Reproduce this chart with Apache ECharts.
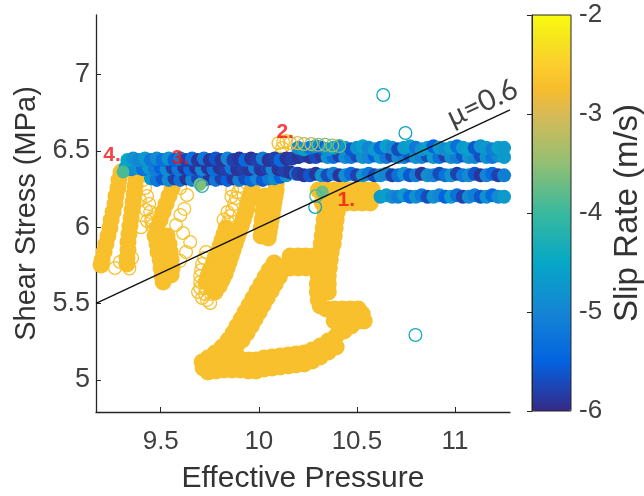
<!DOCTYPE html>
<html>
<head>
<meta charset="utf-8">
<script src="https://cdn.jsdelivr.net/npm/echarts@6/dist/echarts.min.js"></script>
<style>
  html, body { margin: 0; padding: 0; background: #fff; }
  #chart { width: 644px; height: 496px; }
</style>
</head>
<body>
<div id="chart"></div>
<script>
// ticks
const xTicks = [9.5, 10, 10.5, 11];
const yTicks = [5, 5.5, 6, 6.5, 7];
const rateTicks = [-6, -5, -4, -3, -2];

// slip rate of the slow (yellow) loops, log10 m/s
const yellowRate = -2.7;

// yellow loops, [effective pressure, shear stress]
const loopLeft = [
  [9.298,6.362],[9.287,6.309],[9.282,6.257],[9.272,6.205],[9.267,6.152],[9.257,6.100],[9.247,6.047],
  [9.241,5.995],[9.231,5.943],[9.221,5.890],[9.211,5.838],[9.201,5.786],[9.196,5.753],
  [9.374,6.323],[9.369,6.270],[9.364,6.218],[9.359,6.165],[9.354,6.113],[9.349,6.061],[9.343,6.008],
  [9.338,5.956],[9.333,5.903],[9.333,5.851],[9.328,5.799],[9.328,5.759]
];
const loopV = [
  [9.573,6.309],[9.558,6.257],[9.542,6.205],[9.527,6.152],[9.512,6.100],[9.497,6.047],[9.481,5.995],
  [9.471,5.943],[9.481,5.890],[9.486,5.838],[9.497,5.786],[9.502,5.733],[9.507,5.681],[9.512,5.641],
  [9.532,5.943],[9.542,5.890],[9.548,5.838],[9.553,5.786],[9.558,5.733],[9.553,5.687]
];
const loopMid = [
  [9.833,5.995],[9.823,5.956],[9.813,5.917],[9.803,5.877],[9.792,5.838],[9.777,5.799],[9.767,5.759],
  [9.752,5.720],[9.741,5.681],[9.731,5.641],
  [9.966,6.244],[9.956,6.205],[9.946,6.165],[9.940,6.126],[9.930,6.087],[9.920,6.047],[9.910,6.008],
  [9.900,5.969],[9.889,5.930],[9.879,5.890],[9.869,5.851],[9.859,5.812],[9.849,5.772],[9.838,5.733],
  [9.828,5.694],[9.813,5.655],[9.798,5.615],[9.777,5.576],
  [9.828,5.838],[9.818,5.799],[9.808,5.759],[9.792,5.720],[9.782,5.681],[9.772,5.641],[9.762,5.602]
];
const loopColumn = [
  [10.109,6.440],[10.109,6.401],[10.099,6.362],[10.093,6.323],[10.088,6.283],[10.088,6.244],[10.083,6.205],
  [10.078,6.165],[10.073,6.126],[10.068,6.087],[10.063,6.047],[10.058,6.008],[10.053,5.969],[10.048,5.930],
  [10.032,6.205],[10.027,6.152],[10.022,6.100],[10.017,6.047],[10.012,5.995],[10.012,5.943]
];
const loopZ = [
  // block under "1."
  [10.303,6.244],[10.343,6.244],[10.384,6.244],[10.425,6.244],[10.466,6.244],[10.507,6.244],[10.548,6.244],[10.578,6.244],
  [10.323,6.159],[10.364,6.159],[10.405,6.159],[10.446,6.159],[10.486,6.159],[10.527,6.159],[10.568,6.159],
  // falling strand
  [10.338,6.100],[10.333,6.047],[10.328,5.995],[10.323,5.943],[10.318,5.890],[10.313,5.838],[10.308,5.786],
  [10.303,5.733],[10.303,5.681],[10.298,5.628],[10.298,5.576],[10.303,5.524],[10.313,5.484],
  [10.400,6.100],[10.394,6.047],[10.389,5.995],[10.384,5.943],[10.379,5.890],[10.369,5.838],[10.364,5.786],
  [10.359,5.733],[10.354,5.681],[10.354,5.628],[10.354,5.576],
  // short arm
  [10.282,5.812],[10.241,5.812],[10.201,5.812],[10.160,5.812],
  [10.282,5.733],[10.241,5.733],[10.201,5.733],[10.160,5.733],
  // diagonal
  [10.078,5.766],[10.053,5.720],[10.032,5.674],[10.012,5.628],[9.991,5.583],[9.971,5.537],[9.951,5.491],
  [9.930,5.445],[9.910,5.399],[9.889,5.353],[9.869,5.308],[9.844,5.262],[9.813,5.216],[9.777,5.177],
  [9.741,5.144],[9.711,5.118],[9.716,5.078],
  [10.150,5.766],[10.124,5.720],[10.104,5.674],[10.083,5.628],[10.063,5.583],[10.042,5.537],[10.022,5.491],
  [10.002,5.445],[9.981,5.399],[9.961,5.353],[9.940,5.308],[9.915,5.262],[9.884,5.216],
  // bottom run
  [9.741,5.118],[9.782,5.124],[9.823,5.131],[9.864,5.137],[9.905,5.137],[9.946,5.131],[9.986,5.131],
  [10.027,5.144],[10.068,5.150],[10.109,5.157],[10.150,5.163],[10.190,5.170],[10.231,5.177],[10.272,5.196],
  [10.313,5.222],[10.354,5.255],[10.394,5.288],[10.435,5.321],[10.471,5.353],[10.502,5.393],[10.527,5.432],
  [9.741,5.052],[9.782,5.059],[9.823,5.065],[9.864,5.065],[9.905,5.065],[9.946,5.059],[9.986,5.059],
  [10.027,5.072],[10.068,5.078],[10.109,5.085],[10.150,5.091],[10.190,5.098],[10.231,5.104],[10.272,5.124],
  [10.313,5.150],[10.354,5.183],[10.394,5.216],
  // hook
  [10.343,5.465],[10.384,5.465],[10.425,5.465],[10.466,5.465],[10.507,5.465],
  [10.384,5.386],[10.425,5.386],[10.466,5.386],[10.507,5.386],[10.537,5.386]
];
// open yellow circles on the loop edges
const yellowRings = [
  [9.292,5.772],[9.267,5.733],[9.354,5.799],[9.340,5.730],
  [9.410,6.309],[9.420,6.257],[9.430,6.205],[9.441,6.152],[9.446,6.100],[9.451,6.047],[9.456,6.008],
  [9.394,6.178],[9.425,6.113],[9.456,6.060],[9.486,5.995],[9.374,6.224],[9.400,6.000],[9.430,6.041],
  [9.578,6.015],[9.614,5.962],[9.650,5.903],[9.629,5.838],[9.599,5.780],
  [9.599,6.257],[9.634,6.211],[9.600,6.080],[9.620,6.120],
  [9.905,6.270],[9.894,6.231],[9.884,6.192],[9.874,6.152],[9.864,6.113],[9.854,6.074],[9.843,6.034],
  [9.864,6.244],[9.840,6.100],[9.820,6.050],[9.860,6.200],
  [9.731,5.838],[9.721,5.799],[9.711,5.759],[9.706,5.720],[9.701,5.681],[9.701,5.641],[9.701,5.602],
  [9.726,5.602],[9.726,5.563],[9.736,5.524],[9.757,5.563],[9.711,5.537],[9.752,5.504],[9.690,5.576],
  [10.124,6.558],[10.119,6.519],[10.114,6.480],[10.140,6.565],[10.100,6.550]
];

// fast slip bands, [pressure, stress, slip rate]
const bandLeftTop = [
  [9.33,6.44,-4.5],[9.36,6.45,-4.8],[9.39,6.44,-5.0],[9.42,6.45,-4.7],[9.45,6.44,-5.2],[9.48,6.45,-4.9],
  [9.51,6.44,-5.3],[9.54,6.45,-4.8],[9.57,6.44,-5.5],[9.60,6.45,-5.1],[9.63,6.44,-5.8],[9.66,6.45,-5.3],
  [9.69,6.44,-5.9],[9.72,6.45,-5.2],[9.75,6.44,-5.9],[9.78,6.45,-5.6],[9.81,6.44,-5.9],[9.84,6.45,-5.0],
  [9.87,6.44,-5.8],[9.90,6.45,-5.9],[9.93,6.44,-5.4],[9.96,6.45,-5.9],[9.99,6.44,-5.8],[10.02,6.45,-5.1],
  [10.05,6.44,-5.9],[10.08,6.45,-5.8],[10.11,6.44,-5.4],[10.14,6.45,-5.9],[10.17,6.45,-5.8],[10.20,6.46,-5.3]
];
const bandLeftMid = [
  [9.32,6.39,-4.6],[9.35,6.38,-5.0],[9.38,6.39,-4.8],[9.41,6.38,-5.3],[9.44,6.39,-4.7],[9.47,6.38,-5.1],
  [9.50,6.39,-5.5],[9.53,6.38,-4.9],[9.56,6.39,-5.8],[9.59,6.38,-5.2],[9.62,6.39,-5.9],[9.65,6.38,-5.4],
  [9.68,6.39,-5.9],[9.71,6.38,-5.0],[9.74,6.39,-5.9],[9.77,6.38,-5.3],[9.80,6.39,-5.9],[9.83,6.38,-5.8],
  [9.86,6.39,-5.2],[9.89,6.38,-5.9],[9.92,6.39,-5.8],[9.95,6.38,-5.9],[9.98,6.39,-5.1],[10.01,6.38,-5.9],
  [10.04,6.39,-5.8],[10.07,6.38,-5.0],[10.10,6.38,-5.9],[10.13,6.37,-5.8],[10.16,6.36,-5.9],[10.19,6.35,-5.1]
];
const bandLeftLow = [
  [9.45,6.32,-4.7],[9.48,6.31,-5.2],[9.51,6.32,-5.6],[9.54,6.31,-4.9],[9.57,6.32,-5.8],[9.60,6.31,-5.3],
  [9.63,6.32,-5.9],[9.66,6.31,-5.0],[9.69,6.32,-5.7],[9.72,6.31,-5.4],[9.75,6.32,-5.9],[9.78,6.31,-5.2],
  [9.81,6.32,-5.8],[9.84,6.31,-5.5],[9.87,6.32,-5.9],[9.90,6.31,-5.1],[9.93,6.32,-5.7],[9.96,6.31,-5.4],
  [9.99,6.32,-5.0],[10.02,6.31,-5.6],[10.05,6.32,-5.2],[10.08,6.32,-4.9],[10.11,6.33,-5.5],[10.14,6.34,-4.8]
];
const bandRightTop = [
  [10.20,6.52,-4.9],[10.23,6.51,-4.6],[10.26,6.52,-5.2],[10.29,6.53,-4.7],[10.32,6.52,-5.5],[10.35,6.51,-4.8],
  [10.38,6.52,-4.6],[10.41,6.53,-5.1],[10.44,6.52,-4.7],[10.47,6.51,-5.6],[10.50,6.52,-4.8],[10.53,6.53,-4.6],
  [10.56,6.52,-5.0],[10.59,6.51,-4.7],[10.62,6.52,-5.4],[10.65,6.53,-4.6],[10.68,6.52,-4.9],[10.71,6.51,-5.7],
  [10.74,6.52,-4.7],[10.77,6.53,-4.6],[10.80,6.52,-5.2],[10.83,6.51,-4.8],[10.86,6.52,-4.6],[10.89,6.53,-5.5],
  [10.92,6.52,-4.7],[10.95,6.51,-4.9],[10.98,6.52,-4.6],[11.01,6.53,-5.3],[11.04,6.52,-4.7],[11.07,6.51,-4.6],
  [11.10,6.52,-5.6],[11.13,6.53,-4.8],[11.16,6.52,-4.7],[11.19,6.51,-5.1],[11.22,6.52,-4.6],[11.25,6.52,-4.7]
];
const bandRightUpper = [
  [10.20,6.46,-5.9],[10.23,6.47,-5.8],[10.26,6.46,-5.9],[10.29,6.46,-5.7],[10.32,6.47,-5.9],[10.35,6.46,-4.8],
  [10.38,6.46,-5.3],[10.41,6.47,-5.8],[10.44,6.46,-4.9],[10.47,6.46,-5.2],[10.50,6.47,-5.7],[10.53,6.46,-4.8],
  [10.56,6.46,-5.0],[10.59,6.47,-5.5],[10.62,6.46,-4.7],[10.65,6.46,-5.2],[10.68,6.47,-5.8],[10.71,6.46,-4.9],
  [10.74,6.46,-5.1],[10.77,6.47,-5.6],[10.80,6.46,-4.8],[10.83,6.46,-5.0],[10.86,6.47,-5.7],[10.89,6.46,-4.7],
  [10.92,6.46,-5.3],[10.95,6.47,-5.8],[10.98,6.46,-4.9],[11.01,6.46,-5.1],[11.04,6.47,-5.6],[11.07,6.46,-4.8],
  [11.10,6.46,-5.0],[11.13,6.47,-5.7],[11.16,6.46,-4.8],[11.19,6.46,-5.2],[11.22,6.47,-4.9],[11.25,6.46,-4.7]
];
const bandRightMid = [
  [10.20,6.35,-5.8],[10.23,6.34,-5.9],[10.26,6.34,-5.6],[10.29,6.35,-5.9],[10.32,6.34,-4.8],[10.35,6.34,-5.7],
  [10.38,6.35,-5.1],[10.41,6.34,-5.9],[10.44,6.34,-4.9],[10.47,6.35,-5.4],[10.50,6.34,-5.8],[10.53,6.34,-4.8],
  [10.56,6.35,-5.2],[10.59,6.34,-5.7],[10.62,6.34,-4.9],[10.65,6.35,-5.0],[10.68,6.34,-5.8],[10.71,6.34,-5.3],
  [10.74,6.35,-4.8],[10.77,6.34,-5.6],[10.80,6.34,-5.1],[10.83,6.35,-5.9],[10.86,6.34,-4.9],[10.89,6.34,-5.0],
  [10.92,6.35,-5.7],[10.95,6.34,-5.3],[10.98,6.34,-4.8],[11.01,6.35,-5.8],[11.04,6.34,-5.2],[11.07,6.34,-4.9],
  [11.10,6.35,-5.6],[11.13,6.34,-5.9],[11.16,6.34,-5.0],[11.19,6.35,-5.4],[11.22,6.34,-5.8],[11.25,6.34,-5.1]
];
const bandRightLow = [
  [10.62,6.20,-4.7],[10.65,6.21,-4.6],[10.68,6.20,-4.9],[10.71,6.20,-5.1],[10.74,6.21,-4.7],[10.77,6.20,-5.4],
  [10.80,6.20,-4.8],[10.83,6.21,-5.2],[10.86,6.20,-5.7],[10.89,6.20,-4.8],[10.92,6.21,-5.0],[10.95,6.20,-5.5],
  [10.98,6.20,-4.7],[11.01,6.21,-5.3],[11.04,6.20,-5.8],[11.07,6.20,-4.9],[11.10,6.21,-5.1],[11.13,6.20,-5.6],
  [11.16,6.20,-4.8],[11.19,6.21,-5.4],[11.22,6.20,-4.9],[11.25,6.20,-4.7]
];

// transitional points
const greenDots = [[9.308,6.362,-3.9],[9.700,6.280,-3.6],[10.323,6.231,-3.7]];
const openMarks = [
  [10.634,6.866,-4.5],[10.747,6.617,-4.6],[10.798,5.294,-4.4],[10.287,6.133,-4.6],
  [10.292,6.205,-3.9],[9.710,6.270,-4.2],
  [10.160,6.552,-2.8],[10.196,6.552,-3.0],[10.231,6.545,-3.2],[10.267,6.545,-3.3],
  [10.303,6.540,-3.5],[10.338,6.540,-3.6],[10.374,6.535,-3.4],[10.410,6.532,-3.7]
];

// friction line tau = 0.6 * P
const muLine = [[9.17,5.502],[11.28,6.768]];
const muText = ['\u03bc=0.6', 11.139, 6.814];
const stageLabels = [['4.',9.252,6.473],['3.',9.599,6.450],['2.',10.134,6.620],['1.',10.446,6.178]];

const parula = ['#352a87','#1c46b4','#0363e1','#0c74da','#1485d4','#0d96cd','#06a7c6','#1fb0b2',
  '#38b99e','#65bc88','#92bf73','#b6bd64','#d9ba56','#f6bc2c','#fcce2e','#f5e41e','#f9fb0e'];
const ring = 'path://M0,-10A10,10,0,1,1,0,10A10,10,0,1,1,0,-10ZM0,-8.2A8.2,8.2,0,1,0,0,8.2A8.2,8.2,0,1,0,0,-8.2Z';

const withRate = pts => pts.map(p => [p[0], p[1], yellowRate]);
const yellowSolid = withRate([].concat(loopLeft, loopV, loopMid, loopColumn, loopZ));
const blueSolid = [].concat(bandLeftLow, bandLeftMid, bandLeftTop, bandRightLow, bandRightMid, bandRightUpper, bandRightTop);

const axisColor = '#262626';
const labelColor = '#404040';
const font = 'Liberation Sans';
const solid = { opacity: 1 };

const chart = echarts.init(document.getElementById('chart'));
chart.setOption({
  animation: false,
  grid: [
    { left: 96, top: 15, width: 414, height: 397, outerBoundsMode: 'none', containLabel: false },
    { left: 532, top: 15, width: 39, height: 396, show: true, z: 10, outerBoundsMode: 'none', containLabel: false,
      borderColor: axisColor, borderWidth: 1, backgroundColor: 'transparent' }
  ],
  xAxis: [
    { gridIndex: 0, type: 'value', min: 9.17, max: 11.28,
      name: 'Effective Pressure', nameLocation: 'middle', nameGap: 52,
      nameTextStyle: { fontSize: 30, color: '#333', fontFamily: font },
      axisLine: { onZero: false, lineStyle: { color: axisColor, width: 1.3 } },
      axisTick: { inside: true, length: 5, customValues: xTicks, lineStyle: { color: axisColor } },
      axisLabel: { customValues: xTicks, margin: 17, fontSize: 26, color: labelColor, fontFamily: font },
      splitLine: { show: false } },
    { gridIndex: 1, type: 'value', min: 0, max: 1, show: false }
  ],
  yAxis: [
    { gridIndex: 0, type: 'value', min: 4.79, max: 7.39,
      name: 'Shear Stress (MPa)', nameLocation: 'middle', nameGap: 54,
      nameTextStyle: { fontSize: 29, color: '#333', fontFamily: font },
      axisLine: { show: true, onZero: false, lineStyle: { color: axisColor, width: 1.3 } },
      axisTick: { show: true, inside: true, length: 5, customValues: yTicks, lineStyle: { color: axisColor } },
      axisLabel: { customValues: yTicks, margin: 6, fontSize: 27, color: labelColor, fontFamily: font },
      splitLine: { show: false } },
    { gridIndex: 1, type: 'value', min: -6, max: -2, interval: 1, position: 'right', z: 10,
      name: 'Slip Rate (m/s)', nameLocation: 'middle', nameGap: 40,
      nameTextStyle: { fontSize: 33, color: '#333', fontFamily: font },
      axisLine: { show: true, lineStyle: { color: axisColor, width: 1 } },
      axisTick: { show: true, inside: true, length: 5, customValues: rateTicks, lineStyle: { color: axisColor } },
      axisLabel: { customValues: rateTicks, margin: 8, fontSize: 26, color: labelColor, fontFamily: font },
      splitLine: { show: false } }
  ],
  visualMap: {
    type: 'continuous', min: -6, max: -2, dimension: 2,
    seriesIndex: [0, 1, 2, 3, 4],
    inRange: { color: parula },
    calculable: false, hoverLink: false, orient: 'vertical',
    left: 532, top: 15, itemWidth: 39, itemHeight: 396, padding: 0
  },
  series: [
    { type: 'scatter', z: 2, symbol: 'circle', symbolSize: 17, data: yellowSolid, itemStyle: solid, silent: true },
    { type: 'scatter', z: 2, symbol: ring, symbolSize: 14, data: withRate(yellowRings), itemStyle: solid, silent: true },
    { type: 'scatter', z: 3, symbol: 'circle', symbolSize: 14, data: blueSolid, itemStyle: solid, silent: true },
    { type: 'scatter', z: 4, symbol: 'circle', symbolSize: 13, data: greenDots, itemStyle: solid, silent: true },
    { type: 'scatter', z: 4, symbol: ring, symbolSize: 14, data: openMarks, itemStyle: solid, silent: true },
    { type: 'line', z: 5, data: muLine, symbol: 'none', silent: true,
      lineStyle: { color: '#111', width: 1.4 } },
    { type: 'scatter', z: 6, symbolSize: 1, silent: true,
      itemStyle: { color: 'rgba(0,0,0,0)' },
      data: [{ name: muText[0], value: [muText[1], muText[2]] }],
      label: { show: true, position: 'inside', formatter: '{b}', rotate: 25,
        fontSize: 29, color: '#111', fontFamily: 'Lato' } },
    { type: 'scatter', z: 6, symbolSize: 1, silent: true,
      itemStyle: { color: 'rgba(0,0,0,0)' },
      data: stageLabels.map(s => ({ name: s[0], value: [s[1], s[2]] })),
      label: { show: true, position: 'inside', formatter: '{b}',
        fontSize: 21, fontWeight: 'bold', color: '#f01414', fontFamily: font } }
  ]
});
</script>
</body>
</html>
